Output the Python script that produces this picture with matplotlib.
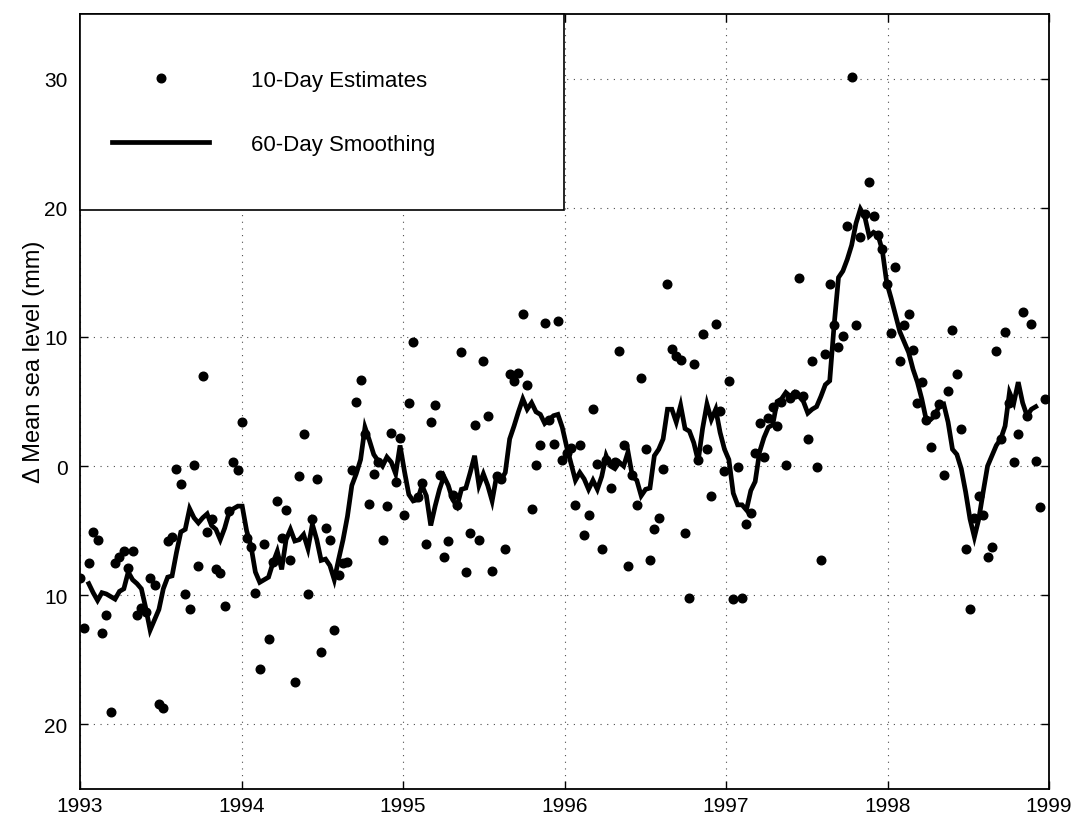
import numpy as np
import matplotlib
matplotlib.use("Agg")
import matplotlib.pyplot as plt
from matplotlib.legend_handler import HandlerLine2D

plt.rcParams["font.family"] = ["Liberation Sans", "DejaVu Sans"]

# ---- Data ----
START_YEAR = 1993.0
CYCLE_DAYS = 9.9156          # 10-day repeat cycle
SMOOTH_OFFSET = 2            # first estimate index that has a smoothed value

# 10-day estimates (mm), one per cycle from 1993.0
est_mm = [
    # 1993
    -8.7, -12.5, -7.5, -5.1, -5.7, -12.9, -11.5, -19.0, -7.5, -7.0,
    -6.6, -7.9, -6.6, -11.5, -11.0, -11.3, -8.7, -9.2, -18.4, -18.7,
    -5.8, -5.5, -0.2, -1.4, -9.9, -11.1, 0.1, -7.7, 7.0, -5.1,
    -4.1, -8.0, -8.3, -10.8, -3.5, 0.3, -0.3, 3.4, -5.6,
    # 1994
    -6.3, -9.8, -15.7, -6.0, -13.4, -7.4, -2.7, -5.6, -3.4, -7.3,
    -16.7, -0.8, 2.5, -9.9, -4.1, -1.0, -14.4, -4.8, -5.7, -12.7,
    -8.4, -7.5, -7.4, -0.3, 5.0, 6.7, 2.5, -2.9, -0.6, 0.3,
    -5.7, -3.1, 2.6, -1.2, 2.2, -3.8, 4.9,
    # 1995
    9.6, -2.4, -1.3, -6.0, 3.4, 4.7, -0.7, -7.0, -5.8, -2.2,
    -3.0, 8.8, -8.2, -5.2, 3.2, -5.7, 8.1, 3.9, -8.1, -0.8,
    -1.0, -6.4, 7.1, 6.6, 7.2, 11.8, 6.3, -3.3, 0.1, 1.6,
    11.1, 3.6, 1.7, 11.2, 0.5, 1.0, 1.4,
    # 1996
    -3.0, 1.6, -5.3, -3.8, 4.4, 0.2, -6.4, 0.5, -1.7, 0.3,
    8.9, 1.6, -7.7, -0.7, -3.0, 6.8, 1.3, -7.3, -4.9, -4.0,
    -0.2, 14.1, 9.1, 8.5, 8.2, -5.2, -10.2, 7.9, 0.5, 10.2,
    1.3, -2.3, 11.0, 4.3, -0.4, 6.6, -10.3,
    # 1997
    -0.1, -10.2, -4.5, -3.6, 1.0, 3.3, 0.7, 3.7, 4.6, 3.1,
    5.0, 0.1, 5.3, 5.6, 14.6, 5.4, 2.1, 8.1, -0.1, -7.3,
    8.7, 14.1, 10.9, 9.2, 10.1, 18.6, 30.1, 10.9, 17.7, 19.5,
    22.0, 19.4, 17.9, 16.8, 14.1, 10.3, 15.4,
    # 1998
    8.1, 10.9, 11.8, 9.0, 4.9, 6.5, 3.6, 1.5, 4.0, 4.8,
    -0.7, 5.8, 10.5, 7.1, 2.9, -6.4, -11.1, -4.0, -2.3, -3.8,
    -7.0, -6.3, 8.9, 2.1, 10.4, 4.9, 0.3, 2.5, 11.9, 3.9,
    11.0, 0.4, -3.2, 5.2,
]

# 60-day smoothing (mm), starting at est index SMOOTH_OFFSET
smooth_mm = [
    # 1993
    -9.1, -9.8, -10.4, -9.8, -9.9, -10.1, -10.3, -9.7, -9.5, -8.2,
    -8.8, -9.1, -9.5, -11.0, -12.7, -11.9, -11.1, -9.5, -8.6, -8.5,
    -6.7, -5.1, -4.9, -3.3, -4.0, -4.4, -4.0, -3.7, -4.6, -4.9,
    -5.7, -4.8, -3.6, -3.3, -3.1, -3.1, -5.0,
    # 1994
    -6.2, -8.2, -9.0, -8.8, -8.6, -7.5, -6.6, -8.0, -5.7, -4.9,
    -5.8, -5.7, -5.3, -6.4, -4.5, -5.7, -7.3, -7.2, -7.7, -8.8,
    -7.2, -5.7, -3.9, -1.5, -0.6, 0.5, 3.0, 2.0, 0.9, 0.4,
    0.0, 0.7, 0.3, -0.6, 1.6, -0.4, -2.2,
    # 1995
    -2.7, -2.6, -1.5, -2.3, -4.6, -3.1, -1.8, -0.8, -1.5, -2.6,
    -3.1, -1.8, -1.7, -0.5, 0.8, -1.5, -0.6, -1.5, -2.7, -0.8,
    -1.1, -0.5, 2.1, 3.1, 4.2, 5.2, 4.4, 4.9, 4.2, 4.0,
    3.3, 3.6, 3.9, 4.0, 3.0, 1.5, 0.2,
    # 1996
    -1.1, -0.5, -1.0, -1.8, -1.1, -1.8, -0.8, 0.8, 0.0, -0.2,
    0.3, 0.0, 1.1, -0.8, -1.1, -2.3, -1.8, -1.7, 0.8, 1.3,
    2.1, 4.4, 4.4, 3.4, 4.7, 2.9, 2.7, 1.8, 0.4, 2.9,
    4.8, 3.6, 4.4, 2.6, 1.3, 0.5, -2.1,
    # 1997
    -3.0, -3.0, -3.4, -1.9, -1.2, 1.1, 2.2, 3.0, 3.2, 5.0,
    5.2, 5.7, 5.4, 5.7, 5.4, 5.0, 4.1, 4.4, 4.6, 5.4,
    6.3, 6.6, 10.9, 14.6, 15.1, 16.0, 17.1, 18.8, 19.9, 19.3,
    17.8, 18.1, 17.9, 16.7, 14.2, 13.0, 11.7,
    # 1998
    10.4, 9.6, 8.8, 7.5, 6.5, 5.2, 3.6, 3.6, 3.9, 4.7,
    4.8, 3.4, 1.3, 0.9, -0.2, -2.0, -4.1, -5.5, -4.1, -2.0,
    0.0, 0.8, 1.6, 2.1, 3.1, 5.7, 4.9, 6.5, 4.9, 3.9,
    4.4, 4.6,
]

x_ticks = [1993, 1994, 1995, 1996, 1997, 1998, 1999]
y_ticks = [-20, -10, 0, 10, 20, 30]
y_tick_labels = ["20", "10", "0", "10", "20", "30"]

legend_labels = ["10-Day Estimates", "60-Day Smoothing"]


def main() -> None:
    t_est = START_YEAR + np.arange(len(est_mm)) * CYCLE_DAYS / 365.25
    t_smooth = t_est[SMOOTH_OFFSET:SMOOTH_OFFSET + len(smooth_mm)]

    fig = plt.figure(figsize=(10.75, 8.2), dpi=100)
    ax = fig.add_axes([80 / 1075, 30 / 820, 969 / 1075, 775 / 820])

    dots, = ax.plot(t_est, est_mm, linestyle="none", marker="o", markersize=6.2,
                    color="black", label=legend_labels[0], zorder=3)
    smooth, = ax.plot(t_smooth, smooth_mm, color="black", linewidth=3.4,
                      solid_joinstyle="miter", label=legend_labels[1], zorder=4)

    ax.set_xlim(1993, 1999)
    ax.set_ylim(-25, 35)
    ax.set_xticks(x_ticks)
    ax.set_xticklabels([str(v) for v in x_ticks])
    ax.set_yticks(y_ticks)
    ax.set_yticklabels(y_tick_labels)

    ax.grid(True, color="0.3", linestyle=(0, (1, 5)), linewidth=0.8)
    ax.tick_params(direction="in", top=True, right=True, length=6,
                   width=1.0, labelsize=15)
    ax.tick_params(axis="x", pad=5)
    ax.tick_params(axis="y", pad=9)
    for spine in ax.spines.values():
        spine.set_linewidth(1.3)

    ax.set_ylabel("\u0394 Mean sea level (mm)", fontsize=17)
    ax.yaxis.set_label_coords(-0.036, 0.553)

    # legend box spans the upper-left quarter of the axes; negative xpad
    # pulls the handles left so they sit nearer the frame than the padding
    handler = HandlerLine2D(xpad=-1.04)
    leg = ax.legend(loc="upper left", bbox_to_anchor=(0.0, 0.751, 0.4995, 0.249),
                    mode="expand", borderaxespad=0,
                    fontsize=16, frameon=True, fancybox=False, framealpha=1,
                    edgecolor="black", borderpad=2.5, labelspacing=1.95,
                    handlelength=3.29, handletextpad=1.9, markerscale=1.0,
                    handler_map={dots: handler, smooth: handler})
    leg.get_frame().set_linewidth(1.2)

    fig.savefig("out.png", dpi=100)
    plt.close(fig)


if __name__ == "__main__":
    main()
